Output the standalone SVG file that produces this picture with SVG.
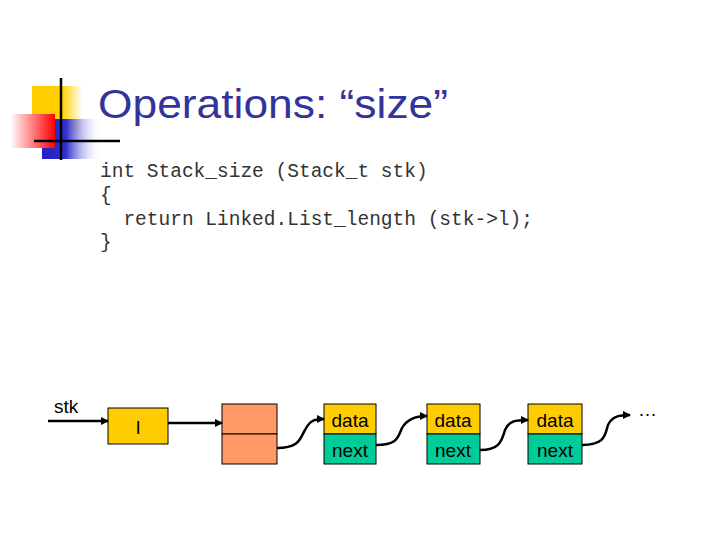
<svg xmlns="http://www.w3.org/2000/svg" width="720" height="540" viewBox="0 0 720 540">
<defs>
<linearGradient id="gr" x1="0" x2="1"><stop offset="0" stop-color="#fff"/><stop offset="1" stop-color="#f00"/></linearGradient>
<linearGradient id="gb" x1="0" x2="1"><stop offset="0" stop-color="#2020c0"/><stop offset="0.4" stop-color="#3030d0"/><stop offset="1" stop-color="#fff" stop-opacity="0"/></linearGradient>
<linearGradient id="gy" x1="0" x2="1"><stop offset="0" stop-color="#ffcc00"/><stop offset="0.6" stop-color="#ffd000"/><stop offset="1" stop-color="#fff"/></linearGradient>
<marker id="ar" markerWidth="8" markerHeight="8" refX="7" refY="4" orient="auto" markerUnits="userSpaceOnUse"><path d="M0,0 L8,4 L0,8 z" fill="#000"/></marker>
<style>
.code{font-family:"Liberation Mono",monospace;font-size:19.5px;fill:#333;white-space:pre}
.t{font-family:"Liberation Sans",Arial,sans-serif;font-size:19px;fill:#000}
.c{fill:none;stroke:#000;stroke-width:2.5;marker-end:url(#ar)}
.box{stroke:#000;stroke-width:1}
</style>
</defs>
<g id="logo">
<rect x="32" y="86" width="50" height="48" fill="url(#gy)"/>
<rect x="42" y="119" width="60" height="40" fill="url(#gb)"/>
<rect x="10" y="114" width="45" height="34" fill="url(#gr)"/>
<line x1="61" y1="78" x2="61" y2="160" stroke="#000" stroke-width="2.5"/>
<line x1="34" y1="141" x2="120" y2="141" stroke="#000" stroke-width="2.5"/>
</g>
<text x="98" y="118" font-family="Liberation Sans,Arial,sans-serif" font-size="40" fill="#333399" textLength="350" lengthAdjust="spacingAndGlyphs">Operations: “size”</text>
<g id="code">
<text class="code" x="100" y="177" xml:space="preserve">int Stack_size (Stack_t stk)</text>
<text class="code" x="100" y="201">{</text>
<text class="code" x="100" y="225" xml:space="preserve">  return Linked.List_length (stk-&gt;l);</text>
<text class="code" x="100" y="248">}</text>
</g>
<text class="t" x="54" y="413">stk</text>
<g id="l"><rect class="box" x="108" y="408" width="60" height="36" fill="#ffcc00"/><text class="t" x="138" y="434" text-anchor="middle">l</text></g>
<g id="head"><rect class="box" x="222" y="404" width="55" height="30" fill="#ff9966"/><rect class="box" x="222" y="434" width="55" height="30" fill="#ff9966"/></g>
<g id="n1"><rect class="box" x="324" y="404" width="52" height="30" fill="#ffcc00"/><rect class="box" x="324" y="434" width="52" height="30" fill="#00cc99"/><text class="t" x="350" y="427" text-anchor="middle">data</text><text class="t" x="350" y="457" text-anchor="middle">next</text></g>
<g id="n2"><rect class="box" x="427" y="404" width="53" height="30" fill="#ffcc00"/><rect class="box" x="427" y="434" width="53" height="30" fill="#00cc99"/><text class="t" x="453" y="427" text-anchor="middle">data</text><text class="t" x="453" y="457" text-anchor="middle">next</text></g>
<g id="n3"><rect class="box" x="528" y="404" width="54" height="30" fill="#ffcc00"/><rect class="box" x="528" y="434" width="54" height="30" fill="#00cc99"/><text class="t" x="555" y="427" text-anchor="middle">data</text><text class="t" x="555" y="457" text-anchor="middle">next</text></g>
<text class="t" x="638" y="416">…</text>
<g id="connectors">
<path class="c" d="M48,421 L108,421"/>
<path class="c" d="M168,423 L222,423"/>
<path class="c" d="M277,448 C300,448 300,438 305,430 C310,420 315,419 324,419"/>
<path class="c" d="M376,445 C398,445 398,437 402,428 C407,419 415,416 427,416"/>
<path class="c" d="M480,450 C500,450 502,440 505,430 C509,421 515,420 528,420"/>
<path class="c" d="M582,445 C605,445 605,435 608,425 C612,416 620,415 630,415"/>
</g>
</svg>
